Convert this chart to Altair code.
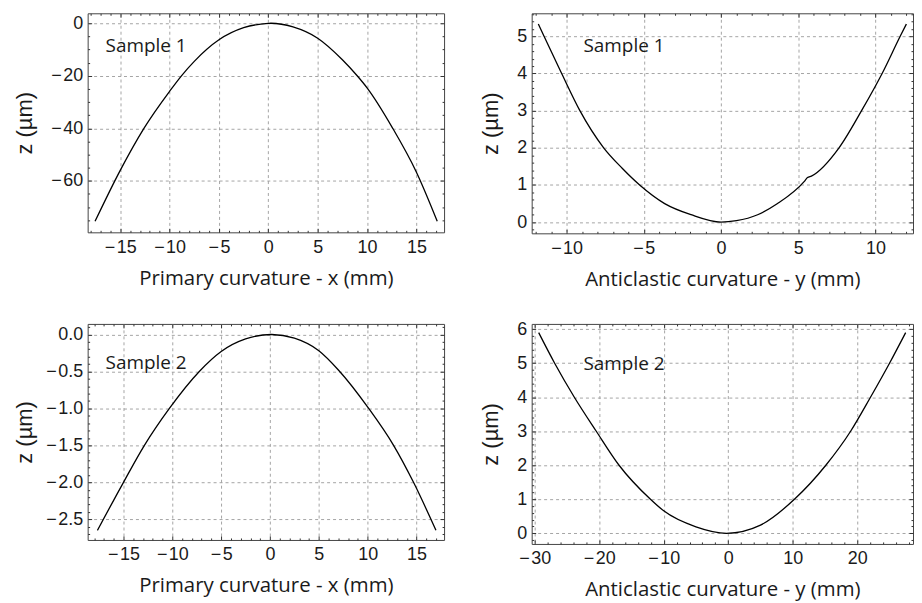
import altair as alt
import numpy as np
import pandas as pd

# ---- data ----
p1_x = [-17.55, -15.0, -12.6, -10.0, -8.8, -7.5, -5.0, -2.5, 0.0, 0.25, 2.5, 5.0, 7.5, 9.0, 10.0, 12.6, 15.0, 17.11]
p1_z = [-75.4, -56.0, -40.0, -25.9, -20.0, -14.5, -6.3, -1.7, -0.05, 0.0, -1.4, -5.7, -13.9, -20.0, -24.6, -40.0, -56.7, -75.4]

p2_x = [-11.83, -11.46, -10.32, -9.14, -7.6, -6.4, -5.27, -3.65, -1.94, 0.0, 1.0, 2.37, 3.66, 5.38, 5.6, 5.85, 7.64, 9.1, 10.43, 11.6, 12.0]
p2_z = [5.33, 5.0, 4.0, 3.0, 2.0, 1.45, 1.0, 0.5, 0.2, 0.0, 0.04, 0.2, 0.5, 1.09, 1.2, 1.24, 2.0, 3.0, 4.0, 5.0, 5.33]

p3_x = [-17.67, -15.0, -12.86, -10.3, -7.24, -5.0, -2.5, 0.17, 2.5, 5.0, 7.0, 10.1, 12.65, 14.69, 16.99]
p3_z = [-2.65, -2.0, -1.5, -1.0, -0.5, -0.23, -0.06, 0.0, -0.05, -0.22, -0.48, -1.0, -1.5, -2.0, -2.65]

p4_x = [-29.38, -26.9, -23.85, -20.45, -16.92, -12.05, -10.0, -5.0, -0.26, 5.0, 10.26, 15.13, 18.97, 22.05, 25.0, 27.5]
p4_z = [5.9, 5.0, 4.0, 3.0, 2.0, 1.0, 0.66, 0.19, 0.0, 0.24, 1.0, 2.0, 3.0, 4.0, 5.0, 5.9]

sample_labels = ["Sample 1", "Sample 1", "Sample 2", "Sample 2"]
x_titles = ["Primary curvature - x (mm)", "Anticlastic curvature - y (mm)",
            "Primary curvature - x (mm)", "Anticlastic curvature - y (mm)"]
y_title = "z (µm)"

LABEL_FONT = "Liberation Sans"
XT_FONT = "Open Sans"
MAJ = 4
MIN = 2
INK = "#1a1a1a"


def ticks(lo, hi, step, exclude_step=None):
    start = np.ceil(lo / step - 1e-9) * step
    out = []
    for v in np.arange(start, hi + 1e-9, step):
        v = float(round(v, 6))
        if exclude_step is not None and abs(v / exclude_step - round(v / exclude_step)) < 1e-6:
            continue
        out.append(0.0 if v == 0 else v)
    return out


def main_axis(orient, vals, fmt, title, tfont, tsize, tpad, lpad):
    return alt.Axis(
        orient=orient, values=vals, format=fmt,
        labelExpr=f"(datum.value < 0 ? '\u2212\u200a' : '') + format(abs(datum.value), '{fmt}')",
        labelOverlap=False, labelFlush=False,
        labelFont=LABEL_FONT, labelFontSize=18, labelColor=INK, labelPadding=lpad,
        grid=True, gridDash=[3, 3], gridColor="#9a9a9a", gridWidth=0.9,
        tickSize=MAJ, offset=-MAJ, tickColor="#333", domain=False,
        title=title, titleFont=tfont, titleFontSize=tsize, titleFontWeight="normal",
        titleColor=INK, titlePadding=tpad,
    )


def tick_axis(orient, vals, size):
    return alt.Axis(
        orient=orient, values=vals, labels=False, grid=False, tickSize=size,
        offset=-size, tickColor="#333", domain=False, title=None,
    )


def panel(xs, zs, xdom, ydom, xmaj, xmin, ymaj, ymin, yfmt, xtitle, label, lpos, w, h, ytpad):
    df = pd.DataFrame({"x": xs, "z": zs})
    xs_ = alt.Scale(domain=xdom, nice=False, zero=False)
    ys_ = alt.Scale(domain=ydom, nice=False, zero=False)
    xM, xm = ticks(xdom[0], xdom[1], xmaj), ticks(xdom[0], xdom[1], xmin, xmaj)
    yM, ym = ticks(ydom[0], ydom[1], ymaj), ticks(ydom[0], ydom[1], ymin, ymaj)

    line = alt.Chart(df).mark_line(color="black", strokeWidth=1.3, interpolate="monotone").encode(
        x=alt.X("x:Q", scale=xs_, axis=main_axis("bottom", xM, "d", xtitle, XT_FONT, 20.5, 12, 6)),
        y=alt.Y("z:Q", scale=ys_, axis=main_axis("left", yM, yfmt, y_title, LABEL_FONT, 22, ytpad, 5)),
    )

    def ghost(xo, yo, xv, yv, size):
        return alt.Chart(df).mark_line(opacity=0).encode(
            x=alt.X("x:Q", scale=xs_, axis=tick_axis(xo, xv, size)),
            y=alt.Y("z:Q", scale=ys_, axis=tick_axis(yo, yv, size)),
        )

    g1 = ghost("top", "right", xM, yM, MAJ)
    g2 = ghost("bottom", "left", xm, ym, MIN)
    g3 = ghost("top", "right", xm, ym, MIN)
    txt = alt.Chart(pd.DataFrame({"t": [label]})).mark_text(
        align="left", baseline="alphabetic", font=XT_FONT, fontSize=19, color=INK
    ).encode(x=alt.value(lpos[0]), y=alt.value(lpos[1]), text="t:N")
    return alt.layer(line, g1, g2, g3, txt).resolve_axis(
        x="independent", y="independent"
    ).properties(width=w, height=h)


c1 = panel(p1_x, p1_z, [-18.3, 17.8], [-79.6, 3.8], 5, 1, 20, 5, "d",
           x_titles[0], sample_labels[0], (18, 39), 358, 220, 14)
c2 = panel(p2_x, p2_z, [-12.26, 12.43], [-0.30, 5.62], 5, 1, 1, 0.2, "d",
           x_titles[1], sample_labels[1], (52, 39), 383, 221, 14)
c3 = panel(p3_x, p3_z, [-18.67, 17.82], [-2.78, 0.143], 5, 1, 0.5, 0.1, ".1f",
           x_titles[2], sample_labels[2], (18, 45), 358, 217, 9)
c4 = panel(p4_x, p4_z, [-30.46, 28.64], [-0.313, 6.155], 10, 2, 1, 0.2, "d",
           x_titles[3], sample_labels[3], (52, 46), 383, 221, 14)

row1 = alt.hconcat(c1, c2, spacing=88, bounds="flush")
row2 = alt.hconcat(c3, c4, spacing=88, bounds="flush")
chart = alt.vconcat(row1, row2, spacing=312, bounds="flush").properties(
    padding={"left": 5, "top": 3, "right": 0, "bottom": 0}
).configure_view(stroke="#444", strokeWidth=1)

chart.save("out.html", embed_options={"renderer": "svg", "actions": False})
